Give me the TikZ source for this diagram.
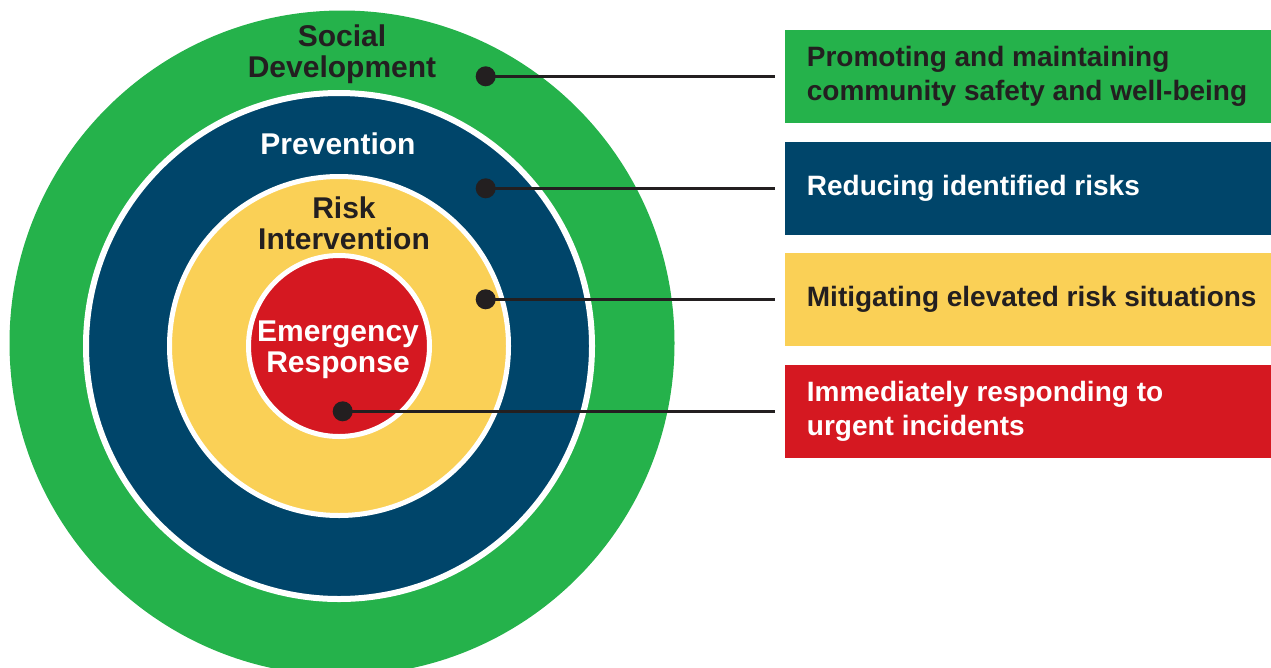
\documentclass[tikz,border=0pt]{standalone}
\usepackage{fontspec}
\setmainfont{Liberation Sans}
\usetikzlibrary{positioning}

\definecolor{sdgreen}{RGB}{37,178,75}
\definecolor{prblue}{RGB}{0,69,106}
\definecolor{riyellow}{RGB}{250,208,86}
\definecolor{erred}{RGB}{213,24,33}
\definecolor{ink}{RGB}{35,31,32}

\begin{document}
\begin{tikzpicture}[
  x=1pt, y=-1pt,
  ring/.style={
    circle,
    draw=white,
    inner sep=0pt
  },
  ringlabel/.style={
    font=\fontsize{30}{31}\selectfont\bfseries,
    align=center,
    inner sep=0pt
  },
  dot/.style={
    circle,
    fill=ink,
    inner sep=0pt,
    minimum size=20pt
  },
  lead/.style={
    draw=ink,
    line width=2.4pt,
    shorten >=10pt
  },
  panel/.style={
    rectangle,
    inner sep=0pt,
    minimum width=486pt,
    minimum height=92.7pt,
    anchor=west
  },
  paneltext/.style={
    font=\fontsize{28}{34}\selectfont\bfseries,
    align=left,
    inner sep=0pt
  }
]
\useasboundingbox (0,0) rectangle (1271,667);
\clip (0,0) rectangle (1271,667);

% Rings, outside in
\node[ring, draw=none, fill=sdgreen, minimum size=665pt] (ring-sd) at (342,343) {};
\node[ring, fill=prblue, line width=6pt, minimum size=506pt] (ring-pr) at (339,346) {};
\node[ring, fill=riyellow, line width=5pt, minimum size=339pt] (ring-ri) at (339,346) {};
\node[ring, fill=erred, line width=5pt, minimum size=181pt] (ring-er) at (339,346) {};

% Ring names
\node[ringlabel, text=ink] (name-sd) at (342,54) {Social\\Development};
\node[ringlabel, text=white, anchor=base] (name-pr) at (338,154) {Prevention};
\node[ringlabel, text=ink] (name-ri) at (344,223.5) {Risk\\Intervention};
\node[ringlabel, text=white] (name-er) at (338,350) {Emergency\\Response};

% Panels
\node[panel, fill=sdgreen] (box-sd) at (785,76.3) {};
\node[panel, fill=prblue] (box-pr) at (785,188.3) {};
\node[panel, fill=riyellow] (box-ri) at (785,299.3) {};
\node[panel, fill=erred] (box-er) at (785,411.3) {};

\node[paneltext, text=ink, right=21.7pt of box-sd.west] (text-sd)
  {Promoting and maintaining\\community safety and well-being};
\node[paneltext, text=white, right=21.7pt of box-pr.west] (text-pr)
  {Reducing identified risks};
\node[paneltext, text=ink, right=21.7pt of box-ri.west] (text-ri)
  {Mitigating elevated risk situations};
\node[paneltext, text=white, right=21.7pt of box-er.west] (text-er)
  {Immediately responding to\\urgent incidents};

% Dots
\node[dot] (dot-sd) at (485.7,76.3) {};
\node[dot] (dot-pr) at (485.7,188.3) {};
\node[dot] (dot-ri) at (485.7,299.3) {};
\node[dot] (dot-er) at (342.7,411.3) {};

% Leads
\foreach \n in {sd,pr,ri,er} {
  \draw[lead] (dot-\n.center) -- (box-\n.west);
}
\end{tikzpicture}
\end{document}
